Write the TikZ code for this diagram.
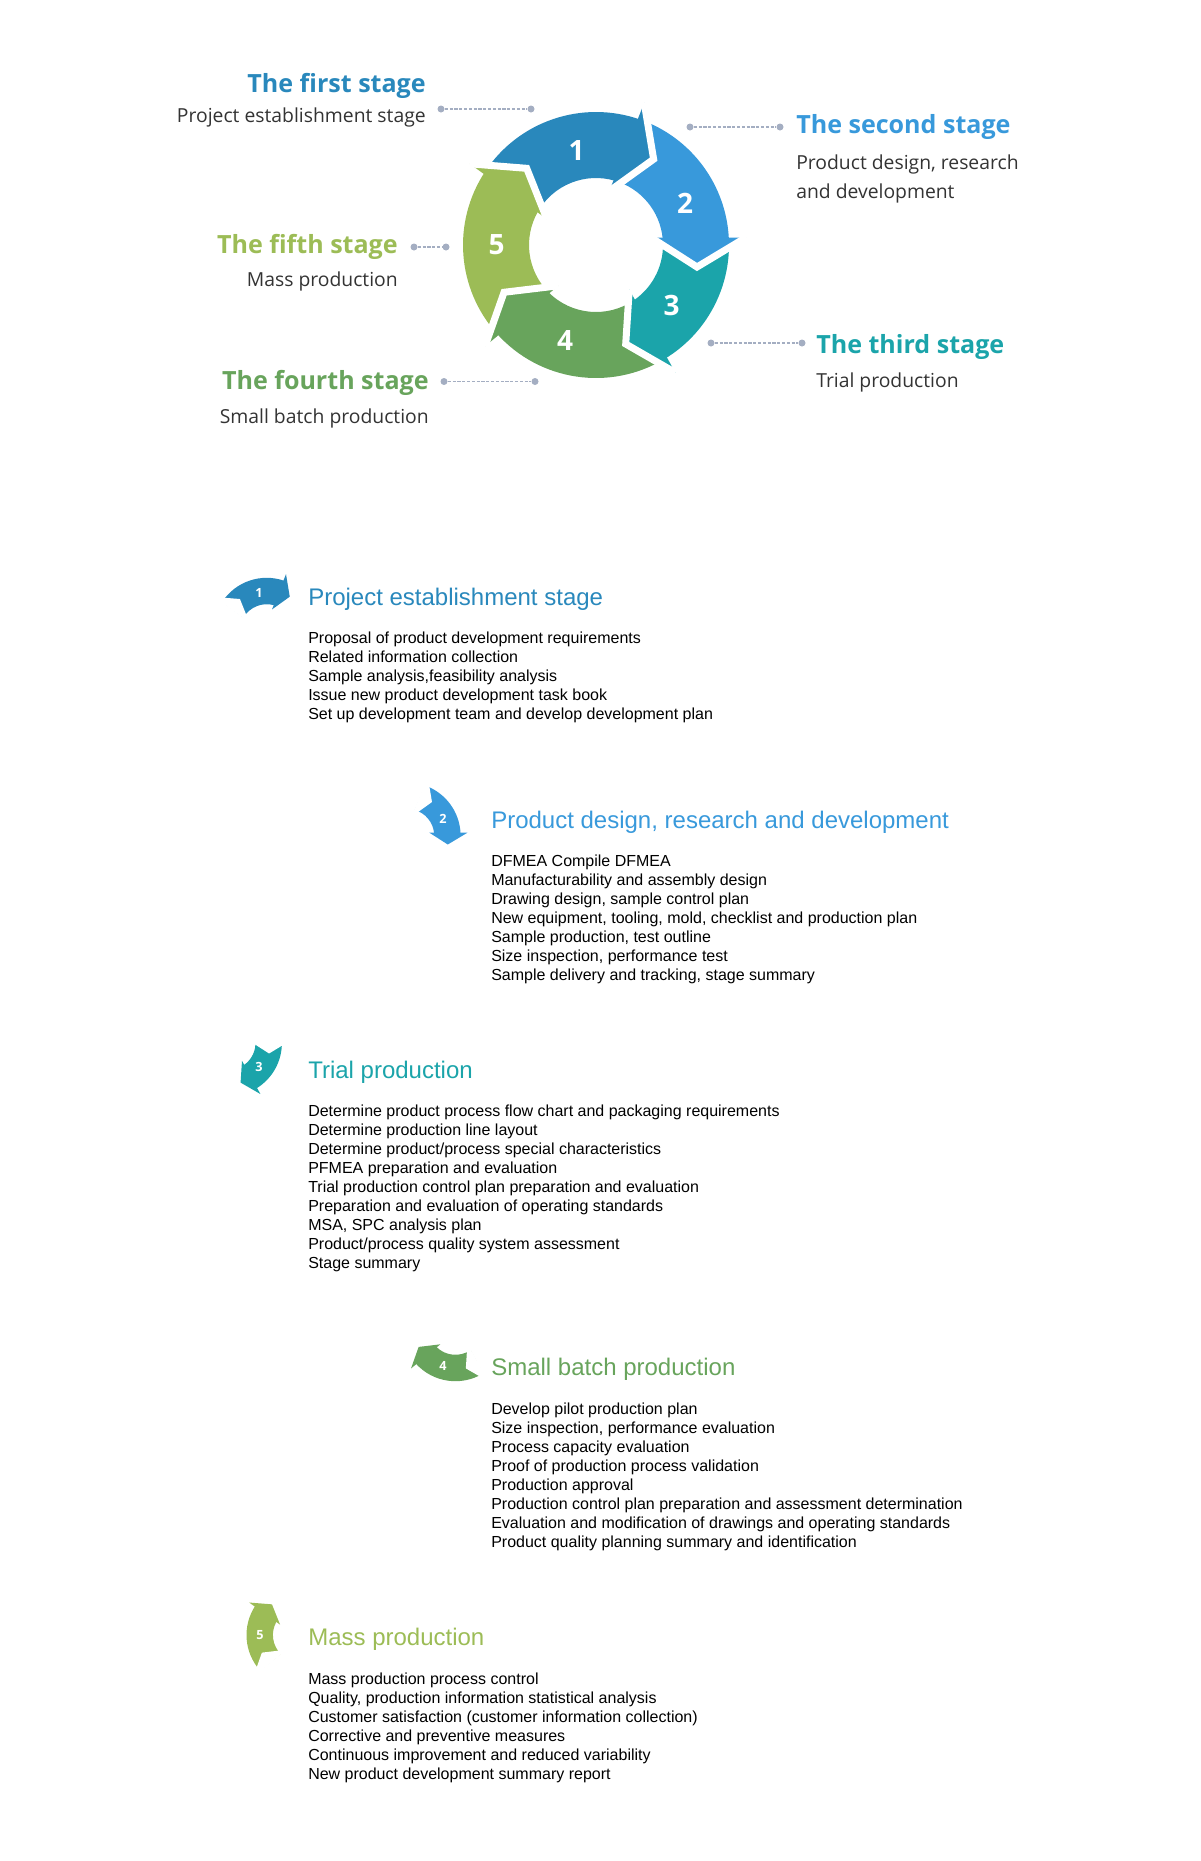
\documentclass[tikz,border=0pt]{standalone}
\usepackage{fontspec}
\setmainfont{Liberation Sans}
\newfontfamily\stagefont{Open Sans}
\definecolor{stageA}{HTML}{2988BC}
\definecolor{stageB}{HTML}{3899DB}
\definecolor{stageC}{HTML}{1BA4AA}
\definecolor{stageD}{HTML}{68A45C}
\definecolor{stageE}{HTML}{9CBC56}
\definecolor{linkgray}{HTML}{A4AEC2}
\definecolor{desctext}{HTML}{333333}

\begin{document}
\begin{tikzpicture}[x=0.75pt, y=0.75pt, every node/.style={inner sep=0pt},
	stagetitle/.style={font=\stagefont\bfseries\fontsize{18.8}{22}\selectfont},
	stagedesc/.style={font=\stagefont\fontsize{14.5}{21.75}\selectfont, text=desctext},
	listhead/.style={anchor=base west, font=\fontsize{18}{22}\selectfont},
	listbody/.style={anchor=north west, align=left, font=\fontsize{12}{14.25}\selectfont},
	cyclenum/.style={text=white, font=\stagefont\bfseries\fontsize{21}{24}\selectfont},
	iconnum/.style={text=white, font=\stagefont\bfseries\fontsize{9.5}{11}\selectfont},
	linkdot/.style={circle, fill=linkgray, minimum size=5.25pt},
	linkline/.style={draw=linkgray, line width=0.8pt, dash pattern=on 2.4pt off 1.2pt},
	gapline/.style={draw=white, line width=5.25pt, line join=miter}]
	\useasboundingbox (0,0) rectangle (1201,-1861);

	% the cycle of five arrows
	\begin{scope}[shift={(596,-245)}]
		\foreach \pa/\pb/\col in {144.4/68.4/stageA, 68.4/0/stageB, 0/-61/stageC, -61/-140.5/stageD, -140.5/-215.6/stageE}
			\fill[\col] ({\pa+2.23}:133) arc[start angle=\pa+2.23, end angle=\pb+2.23, radius=133] -- ({\pb+5.43}:67) arc[start angle=\pb+5.43, end angle=\pa+5.43, radius=67] -- cycle;
		\foreach \pb/\col in {68.4/stageA, 0/stageB, -61/stageC, -140.5/stageD, -215.6/stageE}{
			\fill[\col, rotate=\pb] (132.8,7.5) -- (150,7.5) -- (101,-22) -- (55,7.5) -- (66.6,7.5) -- cycle;
			\draw[gapline, rotate=\pb] (150,7.5) -- (101,-22) -- (55,7.5);
		}
		\foreach \k/\nx/\ny in {1/-19.3/95, 2/89/41.7, 3/75.7/-60, 4/-31/-95, 5/-99.3/0}
			\node[cyclenum] (num\k) at (\nx,\ny) {\k};
	\end{scope}

	% stage labels round the cycle
	\node[stagetitle, text=stageA, anchor=base east] (title1) at (426,-92.7) {The first stage};
	\node[stagedesc, anchor=base east] (desc1) at (426,-122.7) {Project establishment stage};
	\node[stagetitle, text=stageB, anchor=base west] (title2) at (796,-133.3) {The second stage};
	\node[stagedesc, anchor=north west, align=left] (desc2) at (796,-148.8) {\strut Product design, research\\and development};
	\node[stagetitle, text=stageC, anchor=base west] (title3) at (816,-353.3) {The third stage};
	\node[stagedesc, anchor=base west] (desc3) at (816,-387.3) {Trial production};
	\node[stagetitle, text=stageD, anchor=base east] (title4) at (429,-389.3) {The fourth stage};
	\node[stagedesc, anchor=base east] (desc4) at (429,-423.3) {Small batch production};
	\node[stagetitle, text=stageE, anchor=base east] (title5) at (398,-253.3) {The fifth stage};
	\node[stagedesc, anchor=base east] (desc5) at (398,-286.7) {Mass production};

	% dotted leaders
	\foreach \k/\xa/\xb/\y in {1/441/531/-109, 2/690/780/-127, 3/711/802/-343, 4/444/535/-381.5, 5/414/446/-247}{
		\node[linkdot] (d\k a) at (\xa,\y) {};
		\node[linkdot] (d\k b) at (\xb,\y) {};
		\draw[linkline] (d\k a) -- (d\k b);
	}

	% small arrow icons of the list
	\foreach \k/\cx/\cy/\pa/\pb/\col/\nx/\ny in {1/266.7/-631/144.4/68.4/stageA/-19.3/95, 2/407.4/-835.7/68.4/0/stageB/89/41.7, 3/228.7/-1043/0/-61/stageC/75.7/-60, 4/455.4/-1328/-61/-140.5/stageD/-31/-95, 5/299.7/-1635/-140.5/-215.6/stageE/-99.3/0}{
		\begin{scope}[shift={(\cx,\cy)}, scale=0.4]
			\fill[\col] ({\pa+2.23}:133) arc[start angle=\pa+2.23, end angle=\pb+2.23, radius=133] -- ({\pb+5.43}:67) arc[start angle=\pb+5.43, end angle=\pa+5.43, radius=67] -- cycle;
			\fill[\col, rotate=\pb] (132.8,7.5) -- (150,7.5) -- (101,-22) -- (55,7.5) -- (66.6,7.5) -- cycle;
			\fill[white, rotate=\pa] (132.8,7.5) -- (150,7.5) -- (101,-22) -- (55,7.5) -- (66.6,7.5) -- cycle;
			\draw[white, line width=2.1pt, rotate=\pa] (150,7.5) -- (101,-22) -- (55,7.5);
			\node[iconnum] (icon\k) at (\nx,\ny) {\k};
		\end{scope}
	}

	% the five lists
	\node[listhead, text=stageA] (head1) at (308,-605) {Project establishment stage};
	\node[listbody] (body1) at (308,-630) {\strut Proposal of product development requirements\\Related information collection\\Sample analysis,feasibility analysis\\Issue new product development task book\\Set up development team and develop development plan};

	\node[listhead, text=stageB] (head2) at (491,-828.3) {Product design, research and development};
	\node[listbody] (body2) at (491,-853.3) {\strut DFMEA Compile DFMEA\\Manufacturability and assembly design\\Drawing design, sample control plan\\New equipment, tooling, mold, checklist and production plan\\Sample production, test outline\\Size inspection, performance test\\Sample delivery and tracking, stage summary};

	\node[listhead, text=stageC] (head3) at (308,-1078.3) {Trial production};
	\node[listbody] (body3) at (308,-1103.3) {\strut Determine product process flow chart and packaging requirements\\Determine production line layout\\Determine product/process special characteristics\\PFMEA preparation and evaluation\\Trial production control plan preparation and evaluation\\Preparation and evaluation of operating standards\\MSA, SPC analysis plan\\Product/process quality system assessment\\Stage summary};

	\node[listhead, text=stageD] (head4) at (491,-1375.7) {Small batch production};
	\node[listbody] (body4) at (491,-1400.7) {\strut Develop pilot production plan\\Size inspection, performance evaluation\\Process capacity evaluation\\Proof of production process validation\\Production approval\\Production control plan preparation and assessment determination\\Evaluation and modification of drawings and operating standards\\Product quality planning summary and identification};

	\node[listhead, text=stageE] (head5) at (308,-1645.7) {Mass production};
	\node[listbody] (body5) at (308,-1670.7) {\strut Mass production process control\\Quality, production information statistical analysis\\Customer satisfaction (customer information collection)\\Corrective and preventive measures\\Continuous improvement and reduced variability\\New product development summary report};
\end{tikzpicture}
\end{document}
